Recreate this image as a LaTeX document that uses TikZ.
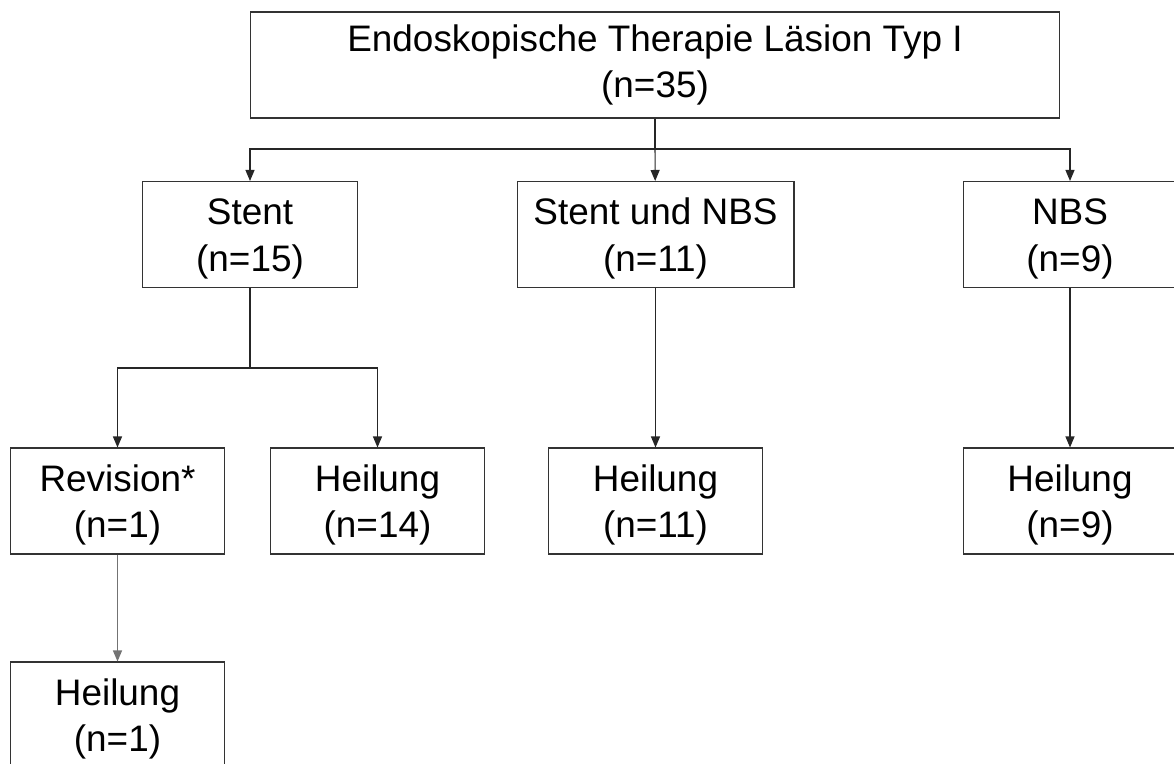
\documentclass[tikz,border=0pt]{standalone}
\usepackage{fontspec}
\setmainfont{Liberation Sans}
\usepackage{tikz}
\usetikzlibrary{arrows.meta}
\newcommand{\twolines}[2]{\rule{0pt}{0.95em}#1\\#2}
\tikzstyle{box} = [draw=black!80, line width=0.6pt, align=center, inner sep=0pt]
\tikzstyle{smallbox} = [box, minimum width=4.27cm, minimum height=2.12cm]
\tikzstyle{arrow} = [draw=black!85, line width=0.6pt, -{Triangle[length=0.22cm,width=0.18cm]}]
\tikzstyle{edge} = [draw=black!85, line width=0.6pt]

\begin{document}
\begin{tikzpicture}[x=0.02cm,y=-0.02cm,every node/.style={font=\fontsize{21}{26.5}\selectfont}]
    \useasboundingbox (0,0) rectangle (1174,764);
    \node[box, minimum width=16.2cm, minimum height=2.12cm] (top) at (655,65)
        {Endoskopische Therapie Läsion Typ I\\(n=35)};
    \node[smallbox, minimum width=4.3cm] (stent) at (250,234.5) {\twolines{Stent}{(n=15)}};
    \node[smallbox, minimum width=5.54cm] (sn) at (655.5,234.5) {\twolines{Stent und NBS}{(n=11)}};
    \node[smallbox] (nbs) at (1070,234.5) {\twolines{NBS}{(n=9)}};
    \node[smallbox] (rev) at (117.5,501) {\twolines{Revision*}{(n=1)}};
    \node[smallbox] (h14) at (377.5,501) {\twolines{Heilung}{(n=14)}};
    \node[smallbox] (h11) at (655.5,501) {\twolines{Heilung}{(n=11)}};
    \node[smallbox] (h9) at (1070,501) {\twolines{Heilung}{(n=9)}};
    \node[smallbox] (h1) at (117.5,715) {\twolines{Heilung}{(n=1)}};
    \coordinate (split1) at (655,149);
    \coordinate (split2) at (250,368);
    \draw[edge] (top.south) -- (split1);
    \draw[arrow] (split1) -| (stent);
    \draw[arrow] (split1) -- (sn);
    \draw[arrow] (split1) -| (nbs);
    \draw[edge] (stent.south) -- (split2);
    \draw[arrow] (split2) -| (rev);
    \draw[arrow] (split2) -| (h14);
    \draw[arrow] (sn) -- (h11);
    \draw[arrow] (nbs) -- (h9);
    \draw[arrow, draw=black!55] (rev) -- (h1);
\end{tikzpicture}
\end{document}
